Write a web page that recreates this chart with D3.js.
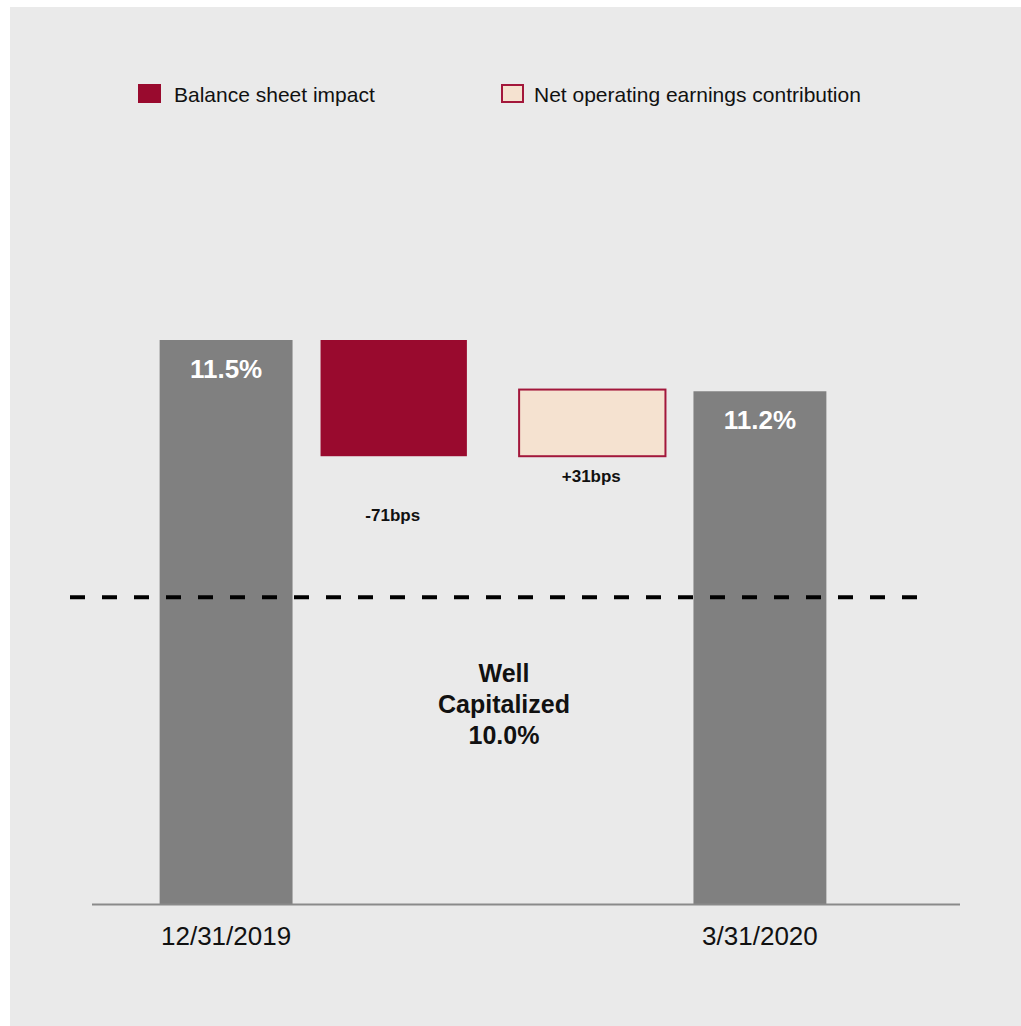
<!DOCTYPE html>
<html>
<head>
<meta charset="utf-8">
<style>
  body { margin: 0; background: #ffffff; }
  #chart text { font-family: "Liberation Sans", Arial, sans-serif; }
</style>
</head>
<body>
<div id="chart"></div>
<script src="https://d3js.org/d3.v7.min.js"></script>
<script>

// categories along the bottom
var categories = ["12/31/2019", "Balance sheet impact", "Net operating earnings contribution", "3/31/2020"];
// tick labels (only the two totals are labelled)
var tickLabels = ["12/31/2019", "", "", "3/31/2020"];
// bar kinds: total or step
var kinds = ["total", "step", "step", "total"];
// values in % (steps are changes, read from the drawn heights)
var values = [11.5, -0.68, 0.39, 11.2];
// labels shown on / under the bars
var barLabels = ["11.5%", "-71bps", "+31bps", "11.2%"];
// well capitalized threshold
var threshold = 10.0;
var thresholdLabel = ["Well", "Capitalized", "10.0%"];
// legend
var legendNames = ["Balance sheet impact", "Net operating earnings contribution"];

var W = 1021, H = 1026;
var red = "#990a2e", beige = "#f5e2d0", grey = "#808080";

var svg = d3.select("#chart").append("svg")
    .attr("width", W)
    .attr("height", H);

// panel background
svg.append("rect")
    .attr("x", 10).attr("y", 7)
    .attr("width", W - 10).attr("height", H - 7)
    .attr("fill", "#eaeaea");

// scales
var x = d3.scaleBand()
    .domain(categories)
    .range([92, 894])
    .paddingInner(0.253)
    .paddingOuter(0.38);

var bw = x.bandwidth();

// the step bars sit in the gap between the two total bars
var stepCats = categories.filter(function(c, i) { return kinds[i] === "step"; });
var xs = d3.scaleBand()
    .domain(stepCats)
    .range([x(categories[0]) + bw, x(categories[3])])
    .paddingInner(0.263)
    .paddingOuter(0.141);

var y = d3.scaleLinear()
    .domain([8.2, 11.5])
    .range([904, 340]);

// build waterfall segments
var running = 0;
var bars = categories.map(function(c, i) {
  var d = { cat: c, kind: kinds[i], label: barLabels[i], value: values[i] };
  if (d.kind === "total") {
    d.lo = y.domain()[0];
    d.hi = values[i];
    d.x0 = x(c);
    d.w = bw;
    running = values[i];
  } else {
    var next = running + values[i];
    d.lo = Math.min(running, next);
    d.hi = Math.max(running, next);
    d.x0 = xs(c);
    d.w = xs.bandwidth();
    running = next;
  }
  return d;
});

// bars
svg.selectAll(".bar")
  .data(bars)
  .enter().append("rect")
    .attr("class", "bar")
    .attr("x", function(d) { return d.x0; })
    .attr("width", function(d) { return d.w; })
    .attr("y", function(d) { return y(d.hi); })
    .attr("height", function(d) { return y(d.lo) - y(d.hi); })
    .attr("fill", function(d) {
      if (d.kind === "total") return grey;
      return d.value < 0 ? red : beige;
    })
    .attr("stroke", function(d) { return d.kind === "step" && d.value > 0 ? "#a3173b" : "none"; })
    .attr("stroke-width", 2);

// labels inside totals
svg.selectAll(".tot-label")
  .data(bars.filter(function(d) { return d.kind === "total"; }))
  .enter().append("text")
    .attr("x", function(d) { return d.x0 + d.w / 2; })
    .attr("y", function(d) { return y(d.hi) + 38; })
    .attr("text-anchor", "middle")
    .attr("font-size", 26)
    .attr("font-weight", "bold")
    .attr("fill", "#ffffff")
    .text(function(d) { return d.label; });

// labels under steps
svg.selectAll(".step-label")
  .data(bars.filter(function(d) { return d.kind === "step"; }))
  .enter().append("text")
    .attr("x", function(d) { return d.x0 + d.w / 2 - 1; })
    .attr("y", function(d) { return y(d.lo) + (d.value < 0 ? 65 : 26); })
    .attr("text-anchor", "middle")
    .attr("font-size", 17)
    .attr("font-weight", "bold")
    .attr("fill", "#111111")
    .text(function(d) { return d.label; });

// base line
svg.append("line")
    .attr("x1", 92).attr("x2", 960)
    .attr("y1", y.range()[0] + 0.5).attr("y2", y.range()[0] + 0.5)
    .attr("stroke", "#8a8a8a")
    .attr("stroke-width", 2);

// x axis labels
var xAxis = svg.append("g")
    .attr("transform", "translate(0," + (y.range()[0] + 1) + ")")
    .call(d3.axisBottom(x).tickSize(0).tickPadding(0)
      .tickFormat(function(d, i) { return tickLabels[i]; }));
xAxis.select(".domain").remove();
xAxis.selectAll("text")
    .attr("font-family", "Liberation Sans, Arial, sans-serif")
    .attr("font-size", 26)
    .attr("fill", "#111111")
    .attr("dy", null)
    .attr("y", 40);

// threshold dashed line
svg.append("line")
    .attr("x1", 70).attr("x2", 918)
    .attr("y1", y(threshold) + 1).attr("y2", y(threshold) + 1)
    .attr("stroke", "#000000")
    .attr("stroke-width", 4)
    .attr("stroke-dasharray", "15,17");

svg.append("text")
    .attr("x", 504)
    .attr("y", y(threshold) + 86)
    .attr("text-anchor", "middle")
    .attr("font-size", 25)
    .attr("font-weight", "bold")
    .attr("fill", "#111111")
  .selectAll("tspan")
  .data(thresholdLabel)
  .enter().append("tspan")
    .attr("x", 504)
    .attr("dy", function(d, i) { return i === 0 ? 0 : 31; })
    .text(function(d) { return d; });

// legend
var legend = svg.selectAll(".legend")
  .data(legendNames)
  .enter().append("g")
    .attr("transform", function(d, i) { return "translate(" + (i === 0 ? 138 : 501) + ",84)"; });

legend.append("rect")
    .attr("x", function(d, i) { return i === 0 ? 0 : 1; })
    .attr("y", function(d, i) { return i === 0 ? 0 : 1; })
    .attr("width", function(d, i) { return i === 0 ? 23 : 21; })
    .attr("height", function(d, i) { return i === 0 ? 19 : 17; })
    .attr("fill", function(d, i) { return i === 0 ? red : beige; })
    .attr("stroke", function(d, i) { return i === 0 ? "none" : "#a3173b"; })
    .attr("stroke-width", 2);

legend.append("text")
    .attr("x", function(d, i) { return i === 0 ? 36 : 33; })
    .attr("y", 18)
    .attr("font-size", 21)
    .attr("fill", "#111111")
    .text(function(d) { return d; });

</script>
</body>
</html>
